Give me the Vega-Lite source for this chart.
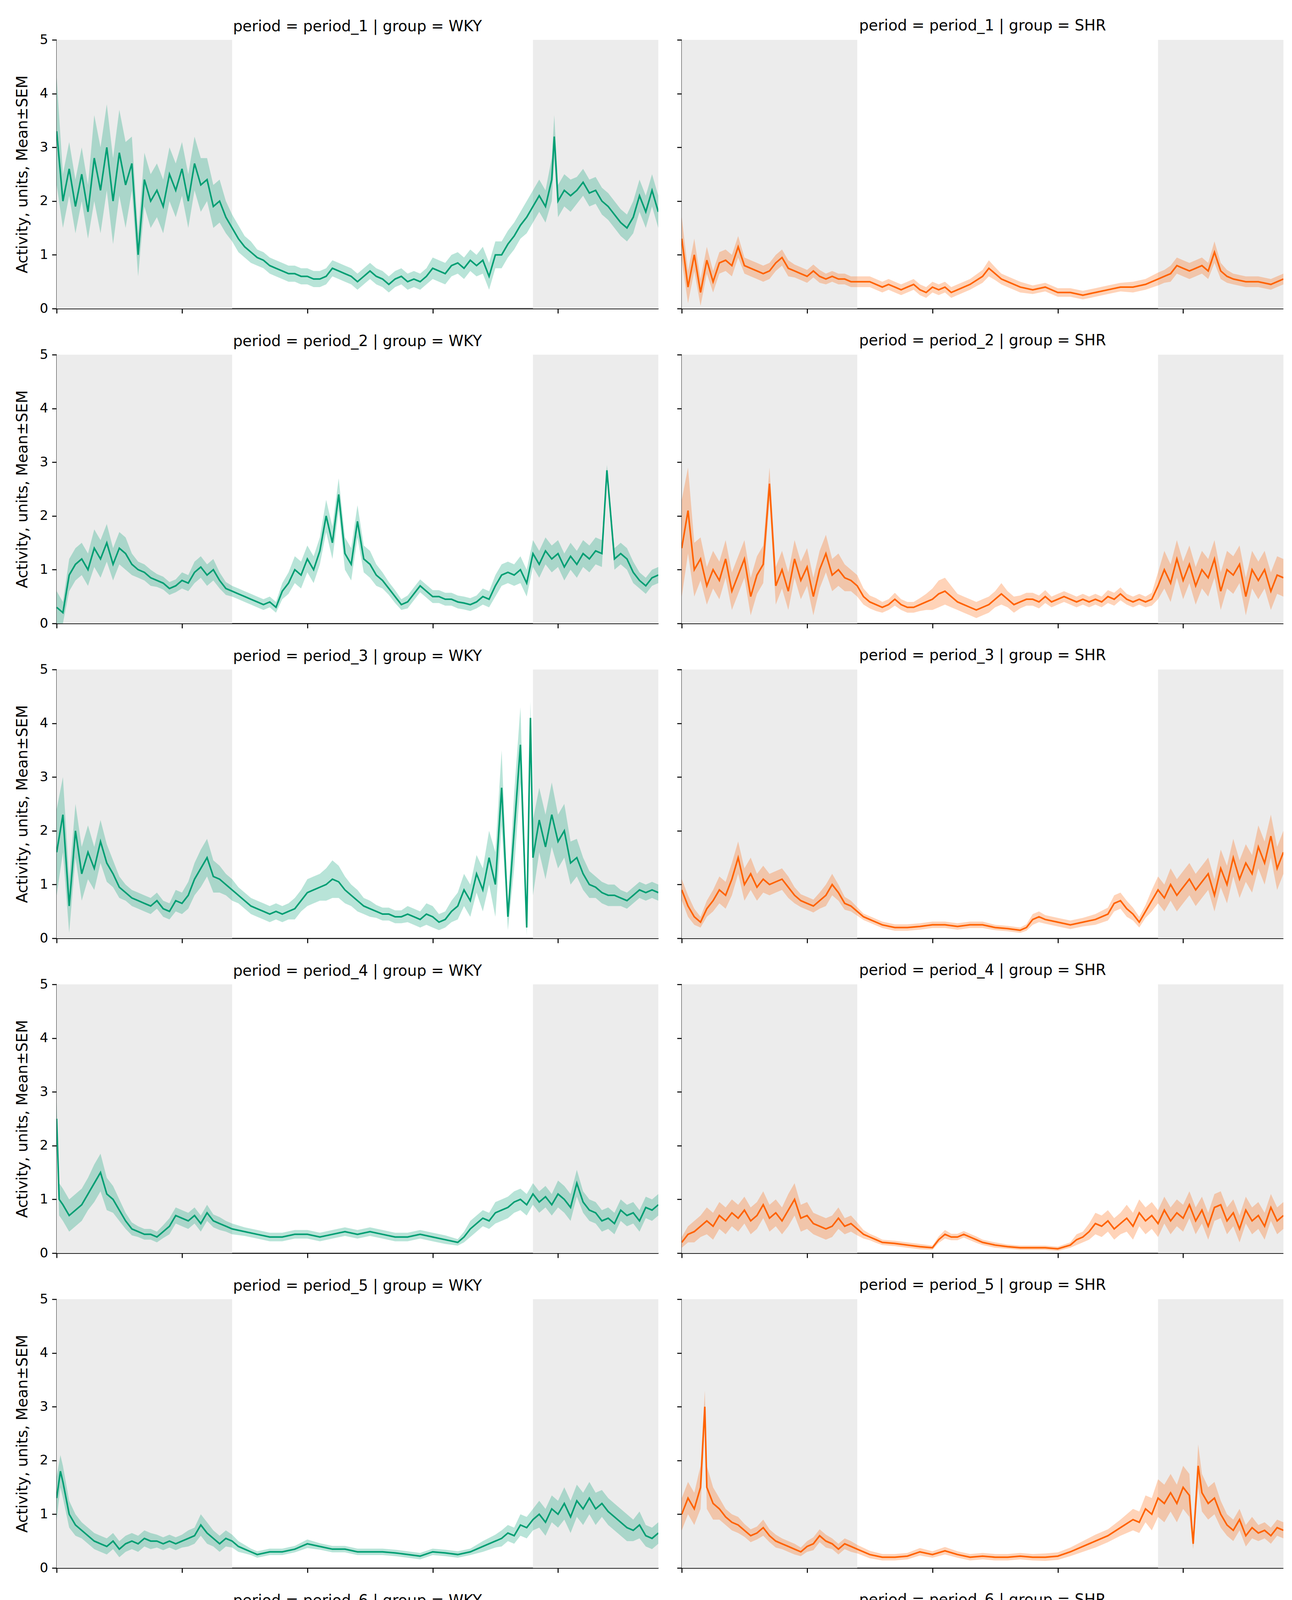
{
  "$schema": "https://vega.github.io/schema/vega-lite/v6.json",
  "description": "Activity per period and group, mean with SEM band, dark phases shaded",
  "padding": {"left": 38, "top": 47, "right": 0, "bottom": 0},
  "data": {"name": "s"},
  "datasets": {
    "night": [{"t": 0, "b": 7}, {"t": 19, "b": 24}],
    "s": [
{"k":"1W","t":0,"m":3.3,"e":1.0},{"k":"1W","t":0.25,"m":2.0,"e":0.5},{"k":"1W","t":0.5,"m":2.6,"e":0.5},{"k":"1W","t":0.75,"m":1.9,"e":0.5},{"k":"1W","t":1,"m":2.5,"e":0.5},{"k":"1W","t":1.25,"m":1.8,"e":0.5},{"k":"1W","t":1.5,"m":2.8,"e":0.8},{"k":"1W","t":1.75,"m":2.2,"e":0.8},{"k":"1W","t":2,"m":3.0,"e":0.8},{"k":"1W","t":2.25,"m":2.0,"e":0.8},{"k":"1W","t":2.5,"m":2.9,"e":0.8},{"k":"1W","t":2.75,"m":2.3,"e":0.8},{"k":"1W","t":3,"m":2.7,"e":0.5},{"k":"1W","t":3.25,"m":1.0,"e":0.4},{"k":"1W","t":3.5,"m":2.4,"e":0.5},{"k":"1W","t":3.75,"m":2.0,"e":0.5},{"k":"1W","t":4,"m":2.2,"e":0.5},{"k":"1W","t":4.25,"m":1.9,"e":0.5},{"k":"1W","t":4.5,"m":2.5,"e":0.5},{"k":"1W","t":4.75,"m":2.2,"e":0.5},{"k":"1W","t":5,"m":2.6,"e":0.5},{"k":"1W","t":5.25,"m":2.0,"e":0.5},{"k":"1W","t":5.5,"m":2.7,"e":0.5},{"k":"1W","t":5.75,"m":2.3,"e":0.5},{"k":"1W","t":6,"m":2.4,"e":0.4},{"k":"1W","t":6.25,"m":1.9,"e":0.4},{"k":"1W","t":6.5,"m":2.0,"e":0.4},{"k":"1W","t":6.75,"m":1.7,"e":0.3},{"k":"1W","t":7,"m":1.5,"e":0.25},{"k":"1W","t":7.25,"m":1.3,"e":0.25},{"k":"1W","t":7.5,"m":1.15,"e":0.2},{"k":"1W","t":7.75,"m":1.05,"e":0.2},{"k":"1W","t":8,"m":0.95,"e":0.15},{"k":"1W","t":8.25,"m":0.9,"e":0.15},{"k":"1W","t":8.5,"m":0.8,"e":0.15},{"k":"1W","t":8.75,"m":0.75,"e":0.15},{"k":"1W","t":9,"m":0.7,"e":0.15},{"k":"1W","t":9.25,"m":0.65,"e":0.15},{"k":"1W","t":9.5,"m":0.65,"e":0.15},{"k":"1W","t":9.75,"m":0.6,"e":0.15},{"k":"1W","t":10,"m":0.6,"e":0.15},{"k":"1W","t":10.25,"m":0.55,"e":0.15},{"k":"1W","t":10.5,"m":0.55,"e":0.15},{"k":"1W","t":10.75,"m":0.6,"e":0.15},{"k":"1W","t":11,"m":0.75,"e":0.15},{"k":"1W","t":11.25,"m":0.7,"e":0.15},{"k":"1W","t":11.5,"m":0.65,"e":0.15},{"k":"1W","t":11.75,"m":0.6,"e":0.15},{"k":"1W","t":12,"m":0.5,"e":0.15},{"k":"1W","t":12.25,"m":0.6,"e":0.15},{"k":"1W","t":12.5,"m":0.7,"e":0.15},{"k":"1W","t":12.75,"m":0.6,"e":0.15},{"k":"1W","t":13,"m":0.55,"e":0.15},{"k":"1W","t":13.25,"m":0.45,"e":0.15},{"k":"1W","t":13.5,"m":0.55,"e":0.15},{"k":"1W","t":13.75,"m":0.6,"e":0.15},{"k":"1W","t":14,"m":0.5,"e":0.15},{"k":"1W","t":14.25,"m":0.55,"e":0.15},{"k":"1W","t":14.5,"m":0.5,"e":0.15},{"k":"1W","t":14.75,"m":0.6,"e":0.15},{"k":"1W","t":15,"m":0.75,"e":0.2},{"k":"1W","t":15.25,"m":0.7,"e":0.2},{"k":"1W","t":15.5,"m":0.65,"e":0.2},{"k":"1W","t":15.75,"m":0.8,"e":0.2},{"k":"1W","t":16,"m":0.85,"e":0.2},{"k":"1W","t":16.25,"m":0.75,"e":0.2},{"k":"1W","t":16.5,"m":0.9,"e":0.2},{"k":"1W","t":16.75,"m":0.8,"e":0.2},{"k":"1W","t":17,"m":0.9,"e":0.25},{"k":"1W","t":17.25,"m":0.6,"e":0.25},{"k":"1W","t":17.5,"m":1.0,"e":0.25},{"k":"1W","t":17.75,"m":1.0,"e":0.25},{"k":"1W","t":18,"m":1.2,"e":0.25},{"k":"1W","t":18.25,"m":1.35,"e":0.25},{"k":"1W","t":18.5,"m":1.55,"e":0.25},{"k":"1W","t":18.75,"m":1.7,"e":0.3},{"k":"1W","t":19,"m":1.9,"e":0.3},{"k":"1W","t":19.25,"m":2.1,"e":0.3},{"k":"1W","t":19.5,"m":1.9,"e":0.3},{"k":"1W","t":19.75,"m":2.4,"e":0.4},{"k":"1W","t":19.85,"m":3.2,"e":0.4},{"k":"1W","t":20,"m":2.0,"e":0.3},{"k":"1W","t":20.25,"m":2.2,"e":0.3},{"k":"1W","t":20.5,"m":2.1,"e":0.3},{"k":"1W","t":20.75,"m":2.2,"e":0.25},{"k":"1W","t":21,"m":2.35,"e":0.25},{"k":"1W","t":21.25,"m":2.15,"e":0.25},{"k":"1W","t":21.5,"m":2.2,"e":0.25},{"k":"1W","t":21.75,"m":2.0,"e":0.25},{"k":"1W","t":22,"m":1.9,"e":0.25},{"k":"1W","t":22.25,"m":1.75,"e":0.25},{"k":"1W","t":22.5,"m":1.6,"e":0.25},{"k":"1W","t":22.75,"m":1.5,"e":0.25},{"k":"1W","t":23,"m":1.7,"e":0.3},{"k":"1W","t":23.25,"m":2.1,"e":0.3},{"k":"1W","t":23.5,"m":1.8,"e":0.3},{"k":"1W","t":23.75,"m":2.2,"e":0.3},{"k":"1W","t":24,"m":1.8,"e":0.3},
{"k":"1S","t":0,"m":1.3,"e":0.4},{"k":"1S","t":0.25,"m":0.4,"e":0.3},{"k":"1S","t":0.5,"m":1.0,"e":0.3},{"k":"1S","t":0.75,"m":0.3,"e":0.25},{"k":"1S","t":1,"m":0.9,"e":0.25},{"k":"1S","t":1.25,"m":0.5,"e":0.2},{"k":"1S","t":1.5,"m":0.85,"e":0.2},{"k":"1S","t":1.75,"m":0.9,"e":0.2},{"k":"1S","t":2,"m":0.8,"e":0.2},{"k":"1S","t":2.25,"m":1.15,"e":0.2},{"k":"1S","t":2.5,"m":0.8,"e":0.15},{"k":"1S","t":2.75,"m":0.75,"e":0.15},{"k":"1S","t":3,"m":0.7,"e":0.15},{"k":"1S","t":3.25,"m":0.65,"e":0.15},{"k":"1S","t":3.5,"m":0.7,"e":0.15},{"k":"1S","t":3.75,"m":0.85,"e":0.15},{"k":"1S","t":4,"m":0.95,"e":0.15},{"k":"1S","t":4.25,"m":0.75,"e":0.15},{"k":"1S","t":4.5,"m":0.7,"e":0.12},{"k":"1S","t":4.75,"m":0.65,"e":0.12},{"k":"1S","t":5,"m":0.6,"e":0.12},{"k":"1S","t":5.25,"m":0.7,"e":0.12},{"k":"1S","t":5.5,"m":0.6,"e":0.12},{"k":"1S","t":5.75,"m":0.55,"e":0.1},{"k":"1S","t":6,"m":0.6,"e":0.1},{"k":"1S","t":6.25,"m":0.55,"e":0.1},{"k":"1S","t":6.5,"m":0.55,"e":0.1},{"k":"1S","t":6.75,"m":0.5,"e":0.1},{"k":"1S","t":7,"m":0.5,"e":0.1},{"k":"1S","t":7.5,"m":0.5,"e":0.1},{"k":"1S","t":8,"m":0.4,"e":0.1},{"k":"1S","t":8.25,"m":0.45,"e":0.1},{"k":"1S","t":8.5,"m":0.4,"e":0.1},{"k":"1S","t":8.75,"m":0.35,"e":0.1},{"k":"1S","t":9,"m":0.4,"e":0.1},{"k":"1S","t":9.25,"m":0.45,"e":0.1},{"k":"1S","t":9.5,"m":0.35,"e":0.1},{"k":"1S","t":9.75,"m":0.3,"e":0.1},{"k":"1S","t":10,"m":0.4,"e":0.1},{"k":"1S","t":10.25,"m":0.35,"e":0.1},{"k":"1S","t":10.5,"m":0.4,"e":0.1},{"k":"1S","t":10.75,"m":0.3,"e":0.1},{"k":"1S","t":11,"m":0.35,"e":0.1},{"k":"1S","t":11.5,"m":0.45,"e":0.1},{"k":"1S","t":12,"m":0.6,"e":0.12},{"k":"1S","t":12.25,"m":0.75,"e":0.15},{"k":"1S","t":12.5,"m":0.65,"e":0.12},{"k":"1S","t":12.75,"m":0.55,"e":0.1},{"k":"1S","t":13,"m":0.5,"e":0.1},{"k":"1S","t":13.5,"m":0.4,"e":0.1},{"k":"1S","t":14,"m":0.35,"e":0.08},{"k":"1S","t":14.5,"m":0.4,"e":0.08},{"k":"1S","t":15,"m":0.3,"e":0.08},{"k":"1S","t":15.5,"m":0.3,"e":0.08},{"k":"1S","t":16,"m":0.25,"e":0.08},{"k":"1S","t":16.5,"m":0.3,"e":0.08},{"k":"1S","t":17,"m":0.35,"e":0.08},{"k":"1S","t":17.5,"m":0.4,"e":0.08},{"k":"1S","t":18,"m":0.4,"e":0.1},{"k":"1S","t":18.5,"m":0.45,"e":0.1},{"k":"1S","t":19,"m":0.55,"e":0.12},{"k":"1S","t":19.25,"m":0.6,"e":0.12},{"k":"1S","t":19.5,"m":0.65,"e":0.15},{"k":"1S","t":19.75,"m":0.8,"e":0.15},{"k":"1S","t":20,"m":0.75,"e":0.15},{"k":"1S","t":20.25,"m":0.7,"e":0.15},{"k":"1S","t":20.5,"m":0.75,"e":0.15},{"k":"1S","t":20.75,"m":0.8,"e":0.15},{"k":"1S","t":21,"m":0.7,"e":0.15},{"k":"1S","t":21.25,"m":1.05,"e":0.2},{"k":"1S","t":21.5,"m":0.7,"e":0.15},{"k":"1S","t":21.75,"m":0.6,"e":0.12},{"k":"1S","t":22,"m":0.55,"e":0.1},{"k":"1S","t":22.5,"m":0.5,"e":0.1},{"k":"1S","t":23,"m":0.5,"e":0.1},{"k":"1S","t":23.5,"m":0.45,"e":0.1},{"k":"1S","t":24,"m":0.55,"e":0.1},
{"k":"2W","t":0,"m":0.3,"e":0.3},{"k":"2W","t":0.25,"m":0.2,"e":0.2},{"k":"2W","t":0.5,"m":0.9,"e":0.3},{"k":"2W","t":0.75,"m":1.1,"e":0.3},{"k":"2W","t":1,"m":1.2,"e":0.3},{"k":"2W","t":1.25,"m":1.0,"e":0.3},{"k":"2W","t":1.5,"m":1.4,"e":0.35},{"k":"2W","t":1.75,"m":1.2,"e":0.35},{"k":"2W","t":2,"m":1.5,"e":0.35},{"k":"2W","t":2.25,"m":1.1,"e":0.3},{"k":"2W","t":2.5,"m":1.4,"e":0.3},{"k":"2W","t":2.75,"m":1.3,"e":0.3},{"k":"2W","t":3,"m":1.1,"e":0.2},{"k":"2W","t":3.25,"m":1.0,"e":0.15},{"k":"2W","t":3.5,"m":0.95,"e":0.15},{"k":"2W","t":3.75,"m":0.85,"e":0.15},{"k":"2W","t":4,"m":0.8,"e":0.12},{"k":"2W","t":4.25,"m":0.75,"e":0.12},{"k":"2W","t":4.5,"m":0.65,"e":0.12},{"k":"2W","t":4.75,"m":0.7,"e":0.12},{"k":"2W","t":5,"m":0.8,"e":0.15},{"k":"2W","t":5.25,"m":0.75,"e":0.15},{"k":"2W","t":5.5,"m":0.95,"e":0.2},{"k":"2W","t":5.75,"m":1.05,"e":0.2},{"k":"2W","t":6,"m":0.9,"e":0.2},{"k":"2W","t":6.25,"m":1.0,"e":0.2},{"k":"2W","t":6.5,"m":0.8,"e":0.15},{"k":"2W","t":6.75,"m":0.65,"e":0.12},{"k":"2W","t":7,"m":0.6,"e":0.1},{"k":"2W","t":7.25,"m":0.55,"e":0.1},{"k":"2W","t":7.5,"m":0.5,"e":0.1},{"k":"2W","t":7.75,"m":0.45,"e":0.1},{"k":"2W","t":8,"m":0.4,"e":0.1},{"k":"2W","t":8.25,"m":0.35,"e":0.1},{"k":"2W","t":8.5,"m":0.4,"e":0.1},{"k":"2W","t":8.75,"m":0.3,"e":0.1},{"k":"2W","t":9,"m":0.6,"e":0.15},{"k":"2W","t":9.25,"m":0.75,"e":0.2},{"k":"2W","t":9.5,"m":1.0,"e":0.25},{"k":"2W","t":9.75,"m":0.9,"e":0.25},{"k":"2W","t":10,"m":1.2,"e":0.25},{"k":"2W","t":10.25,"m":1.0,"e":0.25},{"k":"2W","t":10.5,"m":1.35,"e":0.25},{"k":"2W","t":10.75,"m":2.0,"e":0.3},{"k":"2W","t":11,"m":1.5,"e":0.3},{"k":"2W","t":11.25,"m":2.4,"e":0.3},{"k":"2W","t":11.5,"m":1.3,"e":0.3},{"k":"2W","t":11.75,"m":1.1,"e":0.3},{"k":"2W","t":12,"m":1.9,"e":0.3},{"k":"2W","t":12.25,"m":1.2,"e":0.25},{"k":"2W","t":12.5,"m":1.1,"e":0.25},{"k":"2W","t":12.75,"m":0.9,"e":0.2},{"k":"2W","t":13,"m":0.8,"e":0.15},{"k":"2W","t":13.25,"m":0.65,"e":0.12},{"k":"2W","t":13.5,"m":0.5,"e":0.12},{"k":"2W","t":13.75,"m":0.35,"e":0.1},{"k":"2W","t":14,"m":0.4,"e":0.12},{"k":"2W","t":14.25,"m":0.55,"e":0.12},{"k":"2W","t":14.5,"m":0.7,"e":0.12},{"k":"2W","t":14.75,"m":0.6,"e":0.12},{"k":"2W","t":15,"m":0.5,"e":0.12},{"k":"2W","t":15.25,"m":0.5,"e":0.12},{"k":"2W","t":15.5,"m":0.45,"e":0.12},{"k":"2W","t":15.75,"m":0.45,"e":0.12},{"k":"2W","t":16,"m":0.4,"e":0.12},{"k":"2W","t":16.25,"m":0.38,"e":0.12},{"k":"2W","t":16.5,"m":0.35,"e":0.12},{"k":"2W","t":16.75,"m":0.4,"e":0.12},{"k":"2W","t":17,"m":0.5,"e":0.15},{"k":"2W","t":17.25,"m":0.45,"e":0.15},{"k":"2W","t":17.5,"m":0.7,"e":0.2},{"k":"2W","t":17.75,"m":0.9,"e":0.2},{"k":"2W","t":18,"m":0.95,"e":0.2},{"k":"2W","t":18.25,"m":0.9,"e":0.2},{"k":"2W","t":18.5,"m":1.0,"e":0.25},{"k":"2W","t":18.75,"m":0.75,"e":0.25},{"k":"2W","t":19,"m":1.3,"e":0.25},{"k":"2W","t":19.25,"m":1.1,"e":0.25},{"k":"2W","t":19.5,"m":1.35,"e":0.25},{"k":"2W","t":19.75,"m":1.2,"e":0.25},{"k":"2W","t":20,"m":1.3,"e":0.25},{"k":"2W","t":20.25,"m":1.05,"e":0.25},{"k":"2W","t":20.5,"m":1.25,"e":0.25},{"k":"2W","t":20.75,"m":1.1,"e":0.25},{"k":"2W","t":21,"m":1.3,"e":0.25},{"k":"2W","t":21.25,"m":1.2,"e":0.25},{"k":"2W","t":21.5,"m":1.35,"e":0.25},{"k":"2W","t":21.75,"m":1.3,"e":0.25},{"k":"2W","t":21.95,"m":2.85,"e":0.1},{"k":"2W","t":22.25,"m":1.2,"e":0.2},{"k":"2W","t":22.5,"m":1.3,"e":0.2},{"k":"2W","t":22.75,"m":1.2,"e":0.2},{"k":"2W","t":23,"m":0.95,"e":0.2},{"k":"2W","t":23.25,"m":0.8,"e":0.15},{"k":"2W","t":23.5,"m":0.7,"e":0.15},{"k":"2W","t":23.75,"m":0.85,"e":0.15},{"k":"2W","t":24,"m":0.9,"e":0.15},
{"k":"2S","t":0,"m":1.4,"e":0.9},{"k":"2S","t":0.25,"m":2.1,"e":0.8},{"k":"2S","t":0.5,"m":1.0,"e":0.5},{"k":"2S","t":0.75,"m":1.2,"e":0.4},{"k":"2S","t":1,"m":0.7,"e":0.35},{"k":"2S","t":1.25,"m":1.0,"e":0.35},{"k":"2S","t":1.5,"m":0.8,"e":0.35},{"k":"2S","t":1.75,"m":1.2,"e":0.35},{"k":"2S","t":2,"m":0.6,"e":0.35},{"k":"2S","t":2.25,"m":0.9,"e":0.35},{"k":"2S","t":2.5,"m":1.2,"e":0.35},{"k":"2S","t":2.75,"m":0.5,"e":0.35},{"k":"2S","t":3,"m":0.9,"e":0.35},{"k":"2S","t":3.25,"m":1.1,"e":0.35},{"k":"2S","t":3.5,"m":2.6,"e":0.3},{"k":"2S","t":3.75,"m":0.7,"e":0.35},{"k":"2S","t":4,"m":1.0,"e":0.35},{"k":"2S","t":4.25,"m":0.6,"e":0.35},{"k":"2S","t":4.5,"m":1.2,"e":0.35},{"k":"2S","t":4.75,"m":0.8,"e":0.35},{"k":"2S","t":5,"m":1.05,"e":0.35},{"k":"2S","t":5.25,"m":0.5,"e":0.35},{"k":"2S","t":5.5,"m":1.0,"e":0.35},{"k":"2S","t":5.75,"m":1.3,"e":0.35},{"k":"2S","t":6,"m":0.9,"e":0.3},{"k":"2S","t":6.25,"m":1.0,"e":0.3},{"k":"2S","t":6.5,"m":0.85,"e":0.25},{"k":"2S","t":6.75,"m":0.8,"e":0.2},{"k":"2S","t":7,"m":0.7,"e":0.2},{"k":"2S","t":7.25,"m":0.5,"e":0.15},{"k":"2S","t":7.5,"m":0.4,"e":0.12},{"k":"2S","t":7.75,"m":0.35,"e":0.12},{"k":"2S","t":8,"m":0.3,"e":0.1},{"k":"2S","t":8.25,"m":0.35,"e":0.1},{"k":"2S","t":8.5,"m":0.45,"e":0.12},{"k":"2S","t":8.75,"m":0.35,"e":0.1},{"k":"2S","t":9,"m":0.3,"e":0.1},{"k":"2S","t":9.25,"m":0.3,"e":0.1},{"k":"2S","t":9.5,"m":0.35,"e":0.12},{"k":"2S","t":9.75,"m":0.4,"e":0.15},{"k":"2S","t":10,"m":0.45,"e":0.2},{"k":"2S","t":10.25,"m":0.55,"e":0.25},{"k":"2S","t":10.5,"m":0.6,"e":0.25},{"k":"2S","t":10.75,"m":0.5,"e":0.2},{"k":"2S","t":11,"m":0.4,"e":0.15},{"k":"2S","t":11.25,"m":0.35,"e":0.15},{"k":"2S","t":11.5,"m":0.3,"e":0.15},{"k":"2S","t":11.75,"m":0.25,"e":0.15},{"k":"2S","t":12,"m":0.3,"e":0.15},{"k":"2S","t":12.25,"m":0.35,"e":0.15},{"k":"2S","t":12.5,"m":0.45,"e":0.15},{"k":"2S","t":12.75,"m":0.55,"e":0.2},{"k":"2S","t":13,"m":0.45,"e":0.15},{"k":"2S","t":13.25,"m":0.35,"e":0.15},{"k":"2S","t":13.5,"m":0.4,"e":0.12},{"k":"2S","t":13.75,"m":0.45,"e":0.12},{"k":"2S","t":14,"m":0.45,"e":0.12},{"k":"2S","t":14.25,"m":0.4,"e":0.12},{"k":"2S","t":14.5,"m":0.5,"e":0.12},{"k":"2S","t":14.75,"m":0.4,"e":0.1},{"k":"2S","t":15,"m":0.45,"e":0.1},{"k":"2S","t":15.25,"m":0.5,"e":0.1},{"k":"2S","t":15.5,"m":0.45,"e":0.1},{"k":"2S","t":15.75,"m":0.4,"e":0.1},{"k":"2S","t":16,"m":0.45,"e":0.1},{"k":"2S","t":16.25,"m":0.4,"e":0.1},{"k":"2S","t":16.5,"m":0.45,"e":0.1},{"k":"2S","t":16.75,"m":0.4,"e":0.1},{"k":"2S","t":17,"m":0.5,"e":0.12},{"k":"2S","t":17.25,"m":0.45,"e":0.12},{"k":"2S","t":17.5,"m":0.55,"e":0.12},{"k":"2S","t":17.75,"m":0.45,"e":0.1},{"k":"2S","t":18,"m":0.4,"e":0.1},{"k":"2S","t":18.25,"m":0.45,"e":0.1},{"k":"2S","t":18.5,"m":0.4,"e":0.1},{"k":"2S","t":18.75,"m":0.45,"e":0.12},{"k":"2S","t":19,"m":0.7,"e":0.25},{"k":"2S","t":19.25,"m":1.0,"e":0.35},{"k":"2S","t":19.5,"m":0.75,"e":0.35},{"k":"2S","t":19.75,"m":1.2,"e":0.35},{"k":"2S","t":20,"m":0.8,"e":0.35},{"k":"2S","t":20.25,"m":1.1,"e":0.35},{"k":"2S","t":20.5,"m":0.7,"e":0.35},{"k":"2S","t":20.75,"m":1.0,"e":0.35},{"k":"2S","t":21,"m":0.85,"e":0.35},{"k":"2S","t":21.25,"m":1.2,"e":0.35},{"k":"2S","t":21.5,"m":0.6,"e":0.35},{"k":"2S","t":21.75,"m":1.0,"e":0.35},{"k":"2S","t":22,"m":0.9,"e":0.35},{"k":"2S","t":22.25,"m":1.1,"e":0.35},{"k":"2S","t":22.5,"m":0.5,"e":0.35},{"k":"2S","t":22.75,"m":1.0,"e":0.35},{"k":"2S","t":23,"m":0.8,"e":0.35},{"k":"2S","t":23.25,"m":1.0,"e":0.35},{"k":"2S","t":23.5,"m":0.6,"e":0.35},{"k":"2S","t":23.75,"m":0.9,"e":0.35},{"k":"2S","t":24,"m":0.85,"e":0.35},
{"k":"3W","t":0,"m":1.6,"e":0.8},{"k":"3W","t":0.25,"m":2.3,"e":0.7},{"k":"3W","t":0.5,"m":0.6,"e":0.5},{"k":"3W","t":0.75,"m":2.0,"e":0.5},{"k":"3W","t":1,"m":1.2,"e":0.5},{"k":"3W","t":1.25,"m":1.6,"e":0.5},{"k":"3W","t":1.5,"m":1.3,"e":0.4},{"k":"3W","t":1.75,"m":1.8,"e":0.4},{"k":"3W","t":2,"m":1.4,"e":0.35},{"k":"3W","t":2.25,"m":1.2,"e":0.25},{"k":"3W","t":2.5,"m":0.95,"e":0.2},{"k":"3W","t":2.75,"m":0.85,"e":0.15},{"k":"3W","t":3,"m":0.75,"e":0.15},{"k":"3W","t":3.25,"m":0.7,"e":0.15},{"k":"3W","t":3.5,"m":0.65,"e":0.15},{"k":"3W","t":3.75,"m":0.6,"e":0.15},{"k":"3W","t":4,"m":0.7,"e":0.15},{"k":"3W","t":4.25,"m":0.55,"e":0.15},{"k":"3W","t":4.5,"m":0.5,"e":0.15},{"k":"3W","t":4.75,"m":0.7,"e":0.2},{"k":"3W","t":5,"m":0.65,"e":0.2},{"k":"3W","t":5.25,"m":0.8,"e":0.25},{"k":"3W","t":5.5,"m":1.1,"e":0.3},{"k":"3W","t":5.75,"m":1.3,"e":0.35},{"k":"3W","t":6,"m":1.5,"e":0.35},{"k":"3W","t":6.25,"m":1.15,"e":0.3},{"k":"3W","t":6.5,"m":1.1,"e":0.25},{"k":"3W","t":6.75,"m":1.0,"e":0.2},{"k":"3W","t":7,"m":0.9,"e":0.2},{"k":"3W","t":7.25,"m":0.8,"e":0.15},{"k":"3W","t":7.5,"m":0.7,"e":0.15},{"k":"3W","t":7.75,"m":0.6,"e":0.15},{"k":"3W","t":8,"m":0.55,"e":0.15},{"k":"3W","t":8.25,"m":0.5,"e":0.15},{"k":"3W","t":8.5,"m":0.45,"e":0.15},{"k":"3W","t":8.75,"m":0.5,"e":0.15},{"k":"3W","t":9,"m":0.45,"e":0.15},{"k":"3W","t":9.25,"m":0.5,"e":0.15},{"k":"3W","t":9.5,"m":0.55,"e":0.2},{"k":"3W","t":9.75,"m":0.7,"e":0.2},{"k":"3W","t":10,"m":0.85,"e":0.25},{"k":"3W","t":10.25,"m":0.9,"e":0.25},{"k":"3W","t":10.5,"m":0.95,"e":0.25},{"k":"3W","t":10.75,"m":1.0,"e":0.3},{"k":"3W","t":11,"m":1.1,"e":0.35},{"k":"3W","t":11.25,"m":1.05,"e":0.3},{"k":"3W","t":11.5,"m":0.9,"e":0.25},{"k":"3W","t":11.75,"m":0.8,"e":0.2},{"k":"3W","t":12,"m":0.7,"e":0.2},{"k":"3W","t":12.25,"m":0.6,"e":0.15},{"k":"3W","t":12.5,"m":0.55,"e":0.15},{"k":"3W","t":12.75,"m":0.5,"e":0.12},{"k":"3W","t":13,"m":0.45,"e":0.12},{"k":"3W","t":13.25,"m":0.45,"e":0.12},{"k":"3W","t":13.5,"m":0.4,"e":0.12},{"k":"3W","t":13.75,"m":0.4,"e":0.12},{"k":"3W","t":14,"m":0.45,"e":0.15},{"k":"3W","t":14.25,"m":0.4,"e":0.15},{"k":"3W","t":14.5,"m":0.35,"e":0.15},{"k":"3W","t":14.75,"m":0.45,"e":0.2},{"k":"3W","t":15,"m":0.4,"e":0.2},{"k":"3W","t":15.25,"m":0.3,"e":0.15},{"k":"3W","t":15.5,"m":0.35,"e":0.15},{"k":"3W","t":15.75,"m":0.5,"e":0.2},{"k":"3W","t":16,"m":0.6,"e":0.25},{"k":"3W","t":16.25,"m":0.9,"e":0.3},{"k":"3W","t":16.5,"m":0.7,"e":0.3},{"k":"3W","t":16.75,"m":1.2,"e":0.35},{"k":"3W","t":17,"m":0.9,"e":0.4},{"k":"3W","t":17.25,"m":1.5,"e":0.5},{"k":"3W","t":17.5,"m":1.0,"e":0.6},{"k":"3W","t":17.75,"m":2.8,"e":0.7},{"k":"3W","t":18,"m":0.4,"e":0.25},{"k":"3W","t":18.25,"m":2.0,"e":0.7},{"k":"3W","t":18.5,"m":3.6,"e":0.7},{"k":"3W","t":18.75,"m":0.2,"e":0.15},{"k":"3W","t":18.9,"m":4.1,"e":0.3},{"k":"3W","t":19,"m":1.5,"e":0.7},{"k":"3W","t":19.25,"m":2.2,"e":0.6},{"k":"3W","t":19.5,"m":1.7,"e":0.6},{"k":"3W","t":19.75,"m":2.3,"e":0.6},{"k":"3W","t":20,"m":1.8,"e":0.5},{"k":"3W","t":20.25,"m":2.0,"e":0.5},{"k":"3W","t":20.5,"m":1.4,"e":0.4},{"k":"3W","t":20.75,"m":1.5,"e":0.35},{"k":"3W","t":21,"m":1.2,"e":0.3},{"k":"3W","t":21.25,"m":1.0,"e":0.25},{"k":"3W","t":21.5,"m":0.95,"e":0.2},{"k":"3W","t":21.75,"m":0.85,"e":0.2},{"k":"3W","t":22,"m":0.8,"e":0.2},{"k":"3W","t":22.25,"m":0.8,"e":0.2},{"k":"3W","t":22.5,"m":0.75,"e":0.15},{"k":"3W","t":22.75,"m":0.7,"e":0.15},{"k":"3W","t":23,"m":0.8,"e":0.15},{"k":"3W","t":23.25,"m":0.9,"e":0.15},{"k":"3W","t":23.5,"m":0.85,"e":0.15},{"k":"3W","t":23.75,"m":0.9,"e":0.15},{"k":"3W","t":24,"m":0.85,"e":0.15},
{"k":"3S","t":0,"m":0.9,"e":0.2},{"k":"3S","t":0.25,"m":0.6,"e":0.2},{"k":"3S","t":0.5,"m":0.4,"e":0.15},{"k":"3S","t":0.75,"m":0.3,"e":0.1},{"k":"3S","t":1,"m":0.55,"e":0.15},{"k":"3S","t":1.25,"m":0.7,"e":0.2},{"k":"3S","t":1.5,"m":0.9,"e":0.25},{"k":"3S","t":1.75,"m":0.8,"e":0.25},{"k":"3S","t":2,"m":1.1,"e":0.3},{"k":"3S","t":2.25,"m":1.5,"e":0.3},{"k":"3S","t":2.5,"m":1.0,"e":0.3},{"k":"3S","t":2.75,"m":1.2,"e":0.3},{"k":"3S","t":3,"m":0.95,"e":0.25},{"k":"3S","t":3.25,"m":1.1,"e":0.25},{"k":"3S","t":3.5,"m":1.0,"e":0.2},{"k":"3S","t":3.75,"m":1.05,"e":0.2},{"k":"3S","t":4,"m":1.1,"e":0.2},{"k":"3S","t":4.25,"m":0.95,"e":0.2},{"k":"3S","t":4.5,"m":0.8,"e":0.15},{"k":"3S","t":4.75,"m":0.7,"e":0.12},{"k":"3S","t":5,"m":0.65,"e":0.12},{"k":"3S","t":5.25,"m":0.6,"e":0.12},{"k":"3S","t":5.5,"m":0.7,"e":0.15},{"k":"3S","t":5.75,"m":0.8,"e":0.2},{"k":"3S","t":6,"m":1.0,"e":0.2},{"k":"3S","t":6.25,"m":0.85,"e":0.15},{"k":"3S","t":6.5,"m":0.65,"e":0.12},{"k":"3S","t":6.75,"m":0.6,"e":0.1},{"k":"3S","t":7,"m":0.5,"e":0.08},{"k":"3S","t":7.25,"m":0.4,"e":0.06},{"k":"3S","t":7.5,"m":0.35,"e":0.06},{"k":"3S","t":7.75,"m":0.3,"e":0.06},{"k":"3S","t":8,"m":0.25,"e":0.06},{"k":"3S","t":8.5,"m":0.2,"e":0.06},{"k":"3S","t":9,"m":0.2,"e":0.06},{"k":"3S","t":9.5,"m":0.22,"e":0.06},{"k":"3S","t":10,"m":0.25,"e":0.06},{"k":"3S","t":10.5,"m":0.25,"e":0.06},{"k":"3S","t":11,"m":0.22,"e":0.06},{"k":"3S","t":11.5,"m":0.25,"e":0.06},{"k":"3S","t":12,"m":0.25,"e":0.06},{"k":"3S","t":12.5,"m":0.2,"e":0.05},{"k":"3S","t":13,"m":0.18,"e":0.05},{"k":"3S","t":13.5,"m":0.15,"e":0.05},{"k":"3S","t":13.75,"m":0.2,"e":0.06},{"k":"3S","t":14,"m":0.35,"e":0.1},{"k":"3S","t":14.25,"m":0.4,"e":0.1},{"k":"3S","t":14.5,"m":0.35,"e":0.08},{"k":"3S","t":15,"m":0.3,"e":0.08},{"k":"3S","t":15.5,"m":0.25,"e":0.08},{"k":"3S","t":16,"m":0.3,"e":0.08},{"k":"3S","t":16.5,"m":0.35,"e":0.1},{"k":"3S","t":17,"m":0.45,"e":0.12},{"k":"3S","t":17.25,"m":0.65,"e":0.15},{"k":"3S","t":17.5,"m":0.7,"e":0.15},{"k":"3S","t":17.75,"m":0.55,"e":0.15},{"k":"3S","t":18,"m":0.45,"e":0.12},{"k":"3S","t":18.25,"m":0.3,"e":0.1},{"k":"3S","t":18.5,"m":0.5,"e":0.12},{"k":"3S","t":18.75,"m":0.7,"e":0.2},{"k":"3S","t":19,"m":0.9,"e":0.25},{"k":"3S","t":19.25,"m":0.75,"e":0.25},{"k":"3S","t":19.5,"m":1.0,"e":0.3},{"k":"3S","t":19.75,"m":0.8,"e":0.3},{"k":"3S","t":20,"m":0.95,"e":0.3},{"k":"3S","t":20.25,"m":1.1,"e":0.3},{"k":"3S","t":20.5,"m":0.9,"e":0.3},{"k":"3S","t":20.75,"m":1.05,"e":0.3},{"k":"3S","t":21,"m":1.2,"e":0.3},{"k":"3S","t":21.25,"m":0.8,"e":0.3},{"k":"3S","t":21.5,"m":1.3,"e":0.35},{"k":"3S","t":21.75,"m":1.0,"e":0.35},{"k":"3S","t":22,"m":1.5,"e":0.35},{"k":"3S","t":22.25,"m":1.1,"e":0.35},{"k":"3S","t":22.5,"m":1.4,"e":0.35},{"k":"3S","t":22.75,"m":1.2,"e":0.35},{"k":"3S","t":23,"m":1.7,"e":0.4},{"k":"3S","t":23.25,"m":1.4,"e":0.4},{"k":"3S","t":23.5,"m":1.9,"e":0.4},{"k":"3S","t":23.75,"m":1.3,"e":0.4},{"k":"3S","t":24,"m":1.6,"e":0.4},
{"k":"4W","t":0,"m":2.5,"e":0.3},{"k":"4W","t":0.1,"m":1.0,"e":0.3},{"k":"4W","t":0.25,"m":0.9,"e":0.3},{"k":"4W","t":0.5,"m":0.7,"e":0.3},{"k":"4W","t":0.75,"m":0.8,"e":0.3},{"k":"4W","t":1,"m":0.9,"e":0.3},{"k":"4W","t":1.25,"m":1.1,"e":0.3},{"k":"4W","t":1.5,"m":1.3,"e":0.35},{"k":"4W","t":1.75,"m":1.5,"e":0.35},{"k":"4W","t":2,"m":1.1,"e":0.3},{"k":"4W","t":2.25,"m":1.0,"e":0.25},{"k":"4W","t":2.5,"m":0.8,"e":0.2},{"k":"4W","t":2.75,"m":0.6,"e":0.15},{"k":"4W","t":3,"m":0.45,"e":0.12},{"k":"4W","t":3.25,"m":0.4,"e":0.1},{"k":"4W","t":3.5,"m":0.35,"e":0.1},{"k":"4W","t":3.75,"m":0.35,"e":0.1},{"k":"4W","t":4,"m":0.3,"e":0.1},{"k":"4W","t":4.25,"m":0.4,"e":0.12},{"k":"4W","t":4.5,"m":0.5,"e":0.15},{"k":"4W","t":4.75,"m":0.7,"e":0.15},{"k":"4W","t":5,"m":0.65,"e":0.15},{"k":"4W","t":5.25,"m":0.6,"e":0.15},{"k":"4W","t":5.5,"m":0.7,"e":0.15},{"k":"4W","t":5.75,"m":0.55,"e":0.15},{"k":"4W","t":6,"m":0.75,"e":0.15},{"k":"4W","t":6.25,"m":0.6,"e":0.12},{"k":"4W","t":6.5,"m":0.55,"e":0.12},{"k":"4W","t":6.75,"m":0.5,"e":0.1},{"k":"4W","t":7,"m":0.45,"e":0.1},{"k":"4W","t":7.5,"m":0.4,"e":0.08},{"k":"4W","t":8,"m":0.35,"e":0.08},{"k":"4W","t":8.5,"m":0.3,"e":0.08},{"k":"4W","t":9,"m":0.3,"e":0.08},{"k":"4W","t":9.5,"m":0.35,"e":0.08},{"k":"4W","t":10,"m":0.35,"e":0.08},{"k":"4W","t":10.5,"m":0.3,"e":0.08},{"k":"4W","t":11,"m":0.35,"e":0.08},{"k":"4W","t":11.5,"m":0.4,"e":0.08},{"k":"4W","t":12,"m":0.35,"e":0.08},{"k":"4W","t":12.5,"m":0.4,"e":0.08},{"k":"4W","t":13,"m":0.35,"e":0.08},{"k":"4W","t":13.5,"m":0.3,"e":0.08},{"k":"4W","t":14,"m":0.3,"e":0.08},{"k":"4W","t":14.5,"m":0.35,"e":0.08},{"k":"4W","t":15,"m":0.3,"e":0.08},{"k":"4W","t":15.5,"m":0.25,"e":0.08},{"k":"4W","t":16,"m":0.2,"e":0.06},{"k":"4W","t":16.25,"m":0.3,"e":0.1},{"k":"4W","t":16.5,"m":0.45,"e":0.15},{"k":"4W","t":16.75,"m":0.55,"e":0.15},{"k":"4W","t":17,"m":0.65,"e":0.15},{"k":"4W","t":17.25,"m":0.6,"e":0.15},{"k":"4W","t":17.5,"m":0.75,"e":0.2},{"k":"4W","t":17.75,"m":0.8,"e":0.2},{"k":"4W","t":18,"m":0.85,"e":0.2},{"k":"4W","t":18.25,"m":0.95,"e":0.2},{"k":"4W","t":18.5,"m":1.0,"e":0.2},{"k":"4W","t":18.75,"m":0.9,"e":0.2},{"k":"4W","t":19,"m":1.1,"e":0.2},{"k":"4W","t":19.25,"m":0.95,"e":0.2},{"k":"4W","t":19.5,"m":1.05,"e":0.2},{"k":"4W","t":19.75,"m":0.9,"e":0.2},{"k":"4W","t":20,"m":1.1,"e":0.25},{"k":"4W","t":20.25,"m":1.0,"e":0.25},{"k":"4W","t":20.5,"m":0.85,"e":0.25},{"k":"4W","t":20.75,"m":1.3,"e":0.25},{"k":"4W","t":21,"m":0.95,"e":0.2},{"k":"4W","t":21.25,"m":0.8,"e":0.2},{"k":"4W","t":21.5,"m":0.75,"e":0.2},{"k":"4W","t":21.75,"m":0.6,"e":0.2},{"k":"4W","t":22,"m":0.65,"e":0.2},{"k":"4W","t":22.25,"m":0.55,"e":0.2},{"k":"4W","t":22.5,"m":0.8,"e":0.2},{"k":"4W","t":22.75,"m":0.7,"e":0.2},{"k":"4W","t":23,"m":0.75,"e":0.2},{"k":"4W","t":23.25,"m":0.6,"e":0.2},{"k":"4W","t":23.5,"m":0.85,"e":0.2},{"k":"4W","t":23.75,"m":0.8,"e":0.2},{"k":"4W","t":24,"m":0.9,"e":0.2},
{"k":"4S","t":0,"m":0.2,"e":0.1},{"k":"4S","t":0.25,"m":0.35,"e":0.15},{"k":"4S","t":0.5,"m":0.4,"e":0.2},{"k":"4S","t":0.75,"m":0.5,"e":0.2},{"k":"4S","t":1,"m":0.6,"e":0.25},{"k":"4S","t":1.25,"m":0.5,"e":0.25},{"k":"4S","t":1.5,"m":0.7,"e":0.25},{"k":"4S","t":1.75,"m":0.6,"e":0.25},{"k":"4S","t":2,"m":0.75,"e":0.25},{"k":"4S","t":2.25,"m":0.65,"e":0.25},{"k":"4S","t":2.5,"m":0.8,"e":0.25},{"k":"4S","t":2.75,"m":0.6,"e":0.25},{"k":"4S","t":3,"m":0.7,"e":0.25},{"k":"4S","t":3.25,"m":0.9,"e":0.25},{"k":"4S","t":3.5,"m":0.65,"e":0.25},{"k":"4S","t":3.75,"m":0.75,"e":0.25},{"k":"4S","t":4,"m":0.6,"e":0.25},{"k":"4S","t":4.25,"m":0.8,"e":0.3},{"k":"4S","t":4.5,"m":1.0,"e":0.3},{"k":"4S","t":4.75,"m":0.65,"e":0.25},{"k":"4S","t":5,"m":0.7,"e":0.25},{"k":"4S","t":5.25,"m":0.55,"e":0.2},{"k":"4S","t":5.5,"m":0.5,"e":0.2},{"k":"4S","t":5.75,"m":0.45,"e":0.2},{"k":"4S","t":6,"m":0.5,"e":0.2},{"k":"4S","t":6.25,"m":0.65,"e":0.2},{"k":"4S","t":6.5,"m":0.5,"e":0.15},{"k":"4S","t":6.75,"m":0.55,"e":0.15},{"k":"4S","t":7,"m":0.45,"e":0.12},{"k":"4S","t":7.25,"m":0.35,"e":0.08},{"k":"4S","t":7.5,"m":0.3,"e":0.06},{"k":"4S","t":7.75,"m":0.25,"e":0.06},{"k":"4S","t":8,"m":0.2,"e":0.05},{"k":"4S","t":8.5,"m":0.18,"e":0.05},{"k":"4S","t":9,"m":0.15,"e":0.05},{"k":"4S","t":9.5,"m":0.12,"e":0.05},{"k":"4S","t":10,"m":0.1,"e":0.04},{"k":"4S","t":10.25,"m":0.25,"e":0.06},{"k":"4S","t":10.5,"m":0.35,"e":0.08},{"k":"4S","t":10.75,"m":0.3,"e":0.06},{"k":"4S","t":11,"m":0.3,"e":0.06},{"k":"4S","t":11.25,"m":0.35,"e":0.06},{"k":"4S","t":11.5,"m":0.3,"e":0.06},{"k":"4S","t":11.75,"m":0.25,"e":0.06},{"k":"4S","t":12,"m":0.2,"e":0.05},{"k":"4S","t":12.5,"m":0.15,"e":0.05},{"k":"4S","t":13,"m":0.12,"e":0.04},{"k":"4S","t":13.5,"m":0.1,"e":0.04},{"k":"4S","t":14,"m":0.1,"e":0.04},{"k":"4S","t":14.5,"m":0.1,"e":0.04},{"k":"4S","t":15,"m":0.08,"e":0.04},{"k":"4S","t":15.5,"m":0.15,"e":0.05},{"k":"4S","t":15.75,"m":0.25,"e":0.1},{"k":"4S","t":16,"m":0.3,"e":0.1},{"k":"4S","t":16.25,"m":0.4,"e":0.15},{"k":"4S","t":16.5,"m":0.55,"e":0.2},{"k":"4S","t":16.75,"m":0.5,"e":0.2},{"k":"4S","t":17,"m":0.6,"e":0.2},{"k":"4S","t":17.25,"m":0.45,"e":0.2},{"k":"4S","t":17.5,"m":0.55,"e":0.2},{"k":"4S","t":17.75,"m":0.65,"e":0.25},{"k":"4S","t":18,"m":0.5,"e":0.25},{"k":"4S","t":18.25,"m":0.75,"e":0.25},{"k":"4S","t":18.5,"m":0.6,"e":0.25},{"k":"4S","t":18.75,"m":0.7,"e":0.25},{"k":"4S","t":19,"m":0.55,"e":0.25},{"k":"4S","t":19.25,"m":0.8,"e":0.25},{"k":"4S","t":19.5,"m":0.6,"e":0.25},{"k":"4S","t":19.75,"m":0.75,"e":0.25},{"k":"4S","t":20,"m":0.65,"e":0.25},{"k":"4S","t":20.25,"m":0.9,"e":0.25},{"k":"4S","t":20.5,"m":0.6,"e":0.25},{"k":"4S","t":20.75,"m":0.8,"e":0.25},{"k":"4S","t":21,"m":0.5,"e":0.25},{"k":"4S","t":21.25,"m":0.85,"e":0.25},{"k":"4S","t":21.5,"m":0.9,"e":0.25},{"k":"4S","t":21.75,"m":0.6,"e":0.25},{"k":"4S","t":22,"m":0.75,"e":0.25},{"k":"4S","t":22.25,"m":0.45,"e":0.25},{"k":"4S","t":22.5,"m":0.8,"e":0.25},{"k":"4S","t":22.75,"m":0.6,"e":0.25},{"k":"4S","t":23,"m":0.7,"e":0.25},{"k":"4S","t":23.25,"m":0.5,"e":0.25},{"k":"4S","t":23.5,"m":0.85,"e":0.25},{"k":"4S","t":23.75,"m":0.6,"e":0.25},{"k":"4S","t":24,"m":0.7,"e":0.25},
{"k":"5W","t":0,"m":1.3,"e":0.4},{"k":"5W","t":0.15,"m":1.8,"e":0.3},{"k":"5W","t":0.25,"m":1.6,"e":0.3},{"k":"5W","t":0.5,"m":1.0,"e":0.25},{"k":"5W","t":0.75,"m":0.8,"e":0.2},{"k":"5W","t":1,"m":0.7,"e":0.15},{"k":"5W","t":1.25,"m":0.6,"e":0.15},{"k":"5W","t":1.5,"m":0.5,"e":0.15},{"k":"5W","t":1.75,"m":0.45,"e":0.15},{"k":"5W","t":2,"m":0.4,"e":0.15},{"k":"5W","t":2.25,"m":0.5,"e":0.15},{"k":"5W","t":2.5,"m":0.35,"e":0.15},{"k":"5W","t":2.75,"m":0.45,"e":0.15},{"k":"5W","t":3,"m":0.5,"e":0.15},{"k":"5W","t":3.25,"m":0.45,"e":0.15},{"k":"5W","t":3.5,"m":0.55,"e":0.15},{"k":"5W","t":3.75,"m":0.5,"e":0.15},{"k":"5W","t":4,"m":0.5,"e":0.12},{"k":"5W","t":4.25,"m":0.45,"e":0.12},{"k":"5W","t":4.5,"m":0.5,"e":0.12},{"k":"5W","t":4.75,"m":0.45,"e":0.12},{"k":"5W","t":5,"m":0.5,"e":0.12},{"k":"5W","t":5.25,"m":0.55,"e":0.15},{"k":"5W","t":5.5,"m":0.6,"e":0.15},{"k":"5W","t":5.75,"m":0.8,"e":0.2},{"k":"5W","t":6,"m":0.65,"e":0.2},{"k":"5W","t":6.25,"m":0.55,"e":0.15},{"k":"5W","t":6.5,"m":0.45,"e":0.15},{"k":"5W","t":6.75,"m":0.55,"e":0.15},{"k":"5W","t":7,"m":0.5,"e":0.12},{"k":"5W","t":7.25,"m":0.4,"e":0.1},{"k":"5W","t":7.5,"m":0.35,"e":0.08},{"k":"5W","t":7.75,"m":0.3,"e":0.06},{"k":"5W","t":8,"m":0.25,"e":0.06},{"k":"5W","t":8.5,"m":0.3,"e":0.06},{"k":"5W","t":9,"m":0.3,"e":0.06},{"k":"5W","t":9.5,"m":0.35,"e":0.06},{"k":"5W","t":10,"m":0.45,"e":0.08},{"k":"5W","t":10.5,"m":0.4,"e":0.06},{"k":"5W","t":11,"m":0.35,"e":0.06},{"k":"5W","t":11.5,"m":0.35,"e":0.06},{"k":"5W","t":12,"m":0.3,"e":0.06},{"k":"5W","t":12.5,"m":0.3,"e":0.06},{"k":"5W","t":13,"m":0.3,"e":0.06},{"k":"5W","t":13.5,"m":0.28,"e":0.06},{"k":"5W","t":14,"m":0.25,"e":0.06},{"k":"5W","t":14.5,"m":0.22,"e":0.06},{"k":"5W","t":15,"m":0.3,"e":0.06},{"k":"5W","t":15.5,"m":0.28,"e":0.06},{"k":"5W","t":16,"m":0.25,"e":0.06},{"k":"5W","t":16.5,"m":0.3,"e":0.06},{"k":"5W","t":17,"m":0.4,"e":0.1},{"k":"5W","t":17.5,"m":0.5,"e":0.12},{"k":"5W","t":17.75,"m":0.55,"e":0.15},{"k":"5W","t":18,"m":0.65,"e":0.15},{"k":"5W","t":18.25,"m":0.6,"e":0.15},{"k":"5W","t":18.5,"m":0.8,"e":0.2},{"k":"5W","t":18.75,"m":0.75,"e":0.2},{"k":"5W","t":19,"m":0.9,"e":0.2},{"k":"5W","t":19.25,"m":1.0,"e":0.25},{"k":"5W","t":19.5,"m":0.85,"e":0.25},{"k":"5W","t":19.75,"m":1.1,"e":0.25},{"k":"5W","t":20,"m":1.0,"e":0.25},{"k":"5W","t":20.25,"m":1.2,"e":0.3},{"k":"5W","t":20.5,"m":0.95,"e":0.3},{"k":"5W","t":20.75,"m":1.25,"e":0.3},{"k":"5W","t":21,"m":1.1,"e":0.3},{"k":"5W","t":21.25,"m":1.3,"e":0.3},{"k":"5W","t":21.5,"m":1.1,"e":0.3},{"k":"5W","t":21.75,"m":1.2,"e":0.25},{"k":"5W","t":22,"m":1.05,"e":0.25},{"k":"5W","t":22.25,"m":0.95,"e":0.25},{"k":"5W","t":22.5,"m":0.85,"e":0.25},{"k":"5W","t":22.75,"m":0.75,"e":0.25},{"k":"5W","t":23,"m":0.7,"e":0.2},{"k":"5W","t":23.25,"m":0.8,"e":0.25},{"k":"5W","t":23.5,"m":0.6,"e":0.2},{"k":"5W","t":23.75,"m":0.55,"e":0.2},{"k":"5W","t":24,"m":0.65,"e":0.2},
{"k":"5S","t":0,"m":1.0,"e":0.3},{"k":"5S","t":0.25,"m":1.3,"e":0.3},{"k":"5S","t":0.5,"m":1.1,"e":0.3},{"k":"5S","t":0.75,"m":1.5,"e":0.4},{"k":"5S","t":0.92,"m":3.0,"e":0.3},{"k":"5S","t":1,"m":1.5,"e":0.4},{"k":"5S","t":1.25,"m":1.2,"e":0.3},{"k":"5S","t":1.5,"m":1.1,"e":0.2},{"k":"5S","t":1.75,"m":0.95,"e":0.15},{"k":"5S","t":2,"m":0.85,"e":0.15},{"k":"5S","t":2.25,"m":0.8,"e":0.15},{"k":"5S","t":2.5,"m":0.7,"e":0.12},{"k":"5S","t":2.75,"m":0.6,"e":0.12},{"k":"5S","t":3,"m":0.65,"e":0.12},{"k":"5S","t":3.25,"m":0.75,"e":0.15},{"k":"5S","t":3.5,"m":0.6,"e":0.12},{"k":"5S","t":3.75,"m":0.5,"e":0.12},{"k":"5S","t":4,"m":0.45,"e":0.1},{"k":"5S","t":4.25,"m":0.4,"e":0.1},{"k":"5S","t":4.5,"m":0.35,"e":0.1},{"k":"5S","t":4.75,"m":0.3,"e":0.08},{"k":"5S","t":5,"m":0.4,"e":0.1},{"k":"5S","t":5.25,"m":0.45,"e":0.12},{"k":"5S","t":5.5,"m":0.6,"e":0.12},{"k":"5S","t":5.75,"m":0.5,"e":0.12},{"k":"5S","t":6,"m":0.45,"e":0.1},{"k":"5S","t":6.25,"m":0.35,"e":0.1},{"k":"5S","t":6.5,"m":0.45,"e":0.1},{"k":"5S","t":6.75,"m":0.4,"e":0.1},{"k":"5S","t":7,"m":0.35,"e":0.08},{"k":"5S","t":7.5,"m":0.25,"e":0.07},{"k":"5S","t":8,"m":0.2,"e":0.06},{"k":"5S","t":8.5,"m":0.2,"e":0.06},{"k":"5S","t":9,"m":0.22,"e":0.06},{"k":"5S","t":9.5,"m":0.3,"e":0.07},{"k":"5S","t":10,"m":0.25,"e":0.06},{"k":"5S","t":10.5,"m":0.32,"e":0.07},{"k":"5S","t":11,"m":0.25,"e":0.06},{"k":"5S","t":11.5,"m":0.2,"e":0.06},{"k":"5S","t":12,"m":0.22,"e":0.06},{"k":"5S","t":12.5,"m":0.2,"e":0.06},{"k":"5S","t":13,"m":0.2,"e":0.06},{"k":"5S","t":13.5,"m":0.22,"e":0.06},{"k":"5S","t":14,"m":0.2,"e":0.06},{"k":"5S","t":14.5,"m":0.2,"e":0.07},{"k":"5S","t":15,"m":0.22,"e":0.07},{"k":"5S","t":15.5,"m":0.3,"e":0.08},{"k":"5S","t":16,"m":0.4,"e":0.1},{"k":"5S","t":16.5,"m":0.5,"e":0.12},{"k":"5S","t":17,"m":0.6,"e":0.12},{"k":"5S","t":17.5,"m":0.75,"e":0.15},{"k":"5S","t":18,"m":0.9,"e":0.2},{"k":"5S","t":18.25,"m":0.85,"e":0.2},{"k":"5S","t":18.5,"m":1.1,"e":0.25},{"k":"5S","t":18.75,"m":1.0,"e":0.3},{"k":"5S","t":19,"m":1.3,"e":0.35},{"k":"5S","t":19.25,"m":1.2,"e":0.35},{"k":"5S","t":19.5,"m":1.4,"e":0.35},{"k":"5S","t":19.75,"m":1.2,"e":0.35},{"k":"5S","t":20,"m":1.5,"e":0.4},{"k":"5S","t":20.25,"m":1.35,"e":0.4},{"k":"5S","t":20.4,"m":0.45,"e":0.1},{"k":"5S","t":20.6,"m":1.9,"e":0.4},{"k":"5S","t":20.75,"m":1.4,"e":0.35},{"k":"5S","t":21,"m":1.2,"e":0.3},{"k":"5S","t":21.25,"m":1.3,"e":0.3},{"k":"5S","t":21.5,"m":1.0,"e":0.25},{"k":"5S","t":21.75,"m":0.8,"e":0.2},{"k":"5S","t":22,"m":0.7,"e":0.2},{"k":"5S","t":22.25,"m":0.9,"e":0.2},{"k":"5S","t":22.5,"m":0.6,"e":0.2},{"k":"5S","t":22.75,"m":0.75,"e":0.2},{"k":"5S","t":23,"m":0.65,"e":0.15},{"k":"5S","t":23.25,"m":0.7,"e":0.15},{"k":"5S","t":23.5,"m":0.6,"e":0.15},{"k":"5S","t":23.75,"m":0.75,"e":0.15},{"k":"5S","t":24,"m":0.7,"e":0.15},
{"k":"6W","t":0,"m":2.4,"e":1.0},{"k":"6W","t":0.25,"m":1.5,"e":1.0},{"k":"6W","t":0.5,"m":3.5,"e":1.0},{"k":"6W","t":0.75,"m":2.6,"e":1.0},{"k":"6W","t":1,"m":3.0,"e":1.0},{"k":"6W","t":1.25,"m":2.7,"e":1.0},{"k":"6W","t":1.5,"m":4.4,"e":1.0},{"k":"6W","t":1.75,"m":2.8,"e":1.0},{"k":"6W","t":2,"m":3.2,"e":0.9},{"k":"6W","t":2.25,"m":2.5,"e":0.8},{"k":"6W","t":2.5,"m":3.6,"e":0.8},{"k":"6W","t":2.75,"m":2.2,"e":0.7},{"k":"6W","t":3,"m":2.3,"e":0.6},{"k":"6W","t":3.25,"m":1.9,"e":0.5},{"k":"6W","t":3.5,"m":2.7,"e":0.5},{"k":"6W","t":3.75,"m":1.7,"e":0.5},{"k":"6W","t":4,"m":2.0,"e":0.5},{"k":"6W","t":4.25,"m":1.6,"e":0.5},{"k":"6W","t":4.5,"m":1.8,"e":0.5},{"k":"6W","t":4.75,"m":1.4,"e":0.45},{"k":"6W","t":5,"m":1.6,"e":0.45},{"k":"6W","t":5.25,"m":1.1,"e":0.45},{"k":"6W","t":5.5,"m":1.5,"e":0.45},{"k":"6W","t":5.75,"m":1.0,"e":0.45},{"k":"6W","t":6,"m":1.4,"e":0.45},{"k":"6W","t":6.25,"m":1.1,"e":0.45},{"k":"6W","t":6.5,"m":1.5,"e":0.45},{"k":"6W","t":6.75,"m":1.3,"e":0.45},{"k":"6W","t":7,"m":1.5,"e":0.4},{"k":"6W","t":7.25,"m":1.3,"e":0.4},{"k":"6W","t":7.5,"m":1.4,"e":0.4},{"k":"6W","t":7.75,"m":1.15,"e":0.4},{"k":"6W","t":8,"m":1.2,"e":0.4},{"k":"6W","t":8.25,"m":0.95,"e":0.4},{"k":"6W","t":8.5,"m":1.05,"e":0.4},{"k":"6W","t":8.75,"m":0.6,"e":0.4},{"k":"6W","t":9,"m":1.1,"e":0.45},{"k":"6W","t":9.25,"m":0.55,"e":0.45},{"k":"6W","t":9.5,"m":1.4,"e":0.5},{"k":"6W","t":9.75,"m":1.2,"e":0.6},{"k":"6W","t":10,"m":1.6,"e":0.7},{"k":"6W","t":10.25,"m":1.4,"e":0.7},{"k":"6W","t":10.5,"m":2.0,"e":0.8},{"k":"6W","t":10.75,"m":1.7,"e":0.8},{"k":"6W","t":11,"m":2.5,"e":0.9},{"k":"6W","t":11.25,"m":1.9,"e":0.9},{"k":"6W","t":11.5,"m":3.0,"e":0.9},{"k":"6W","t":11.75,"m":1.8,"e":0.8},{"k":"6W","t":12,"m":2.1,"e":0.7},{"k":"6W","t":12.25,"m":1.8,"e":0.6},{"k":"6W","t":12.5,"m":1.7,"e":0.55},{"k":"6W","t":12.75,"m":1.5,"e":0.5},{"k":"6W","t":13,"m":1.35,"e":0.5},{"k":"6W","t":13.25,"m":1.25,"e":0.5},{"k":"6W","t":13.5,"m":1.1,"e":0.45},{"k":"6W","t":13.75,"m":1.0,"e":0.45},{"k":"6W","t":14,"m":0.9,"e":0.45},{"k":"6W","t":14.25,"m":0.8,"e":0.4},{"k":"6W","t":14.5,"m":0.75,"e":0.4},{"k":"6W","t":14.75,"m":0.65,"e":0.35},{"k":"6W","t":15,"m":0.6,"e":0.35},{"k":"6W","t":15.25,"m":0.55,"e":0.3},{"k":"6W","t":15.5,"m":0.5,"e":0.3},{"k":"6W","t":15.75,"m":0.5,"e":0.3},{"k":"6W","t":16,"m":0.45,"e":0.3},{"k":"6W","t":16.25,"m":0.55,"e":0.3},{"k":"6W","t":16.5,"m":0.4,"e":0.3},{"k":"6W","t":16.75,"m":0.7,"e":0.35},{"k":"6W","t":17,"m":0.6,"e":0.35},{"k":"6W","t":17.25,"m":0.9,"e":0.4},{"k":"6W","t":17.5,"m":0.7,"e":0.4},{"k":"6W","t":17.75,"m":1.0,"e":0.45},{"k":"6W","t":18,"m":0.8,"e":0.45},{"k":"6W","t":18.25,"m":1.3,"e":0.5},{"k":"6W","t":18.5,"m":4.1,"e":0.3},{"k":"6W","t":18.6,"m":1.2,"e":0.5},{"k":"6W","t":18.75,"m":1.4,"e":0.6},{"k":"6W","t":19,"m":1.6,"e":0.6},{"k":"6W","t":19.25,"m":1.2,"e":0.6},{"k":"6W","t":19.5,"m":1.9,"e":0.6},{"k":"6W","t":19.75,"m":2.9,"e":0.6},{"k":"6W","t":20,"m":1.3,"e":0.6},{"k":"6W","t":20.25,"m":1.1,"e":0.6},{"k":"6W","t":20.5,"m":1.6,"e":0.6},{"k":"6W","t":20.75,"m":1.2,"e":0.6},{"k":"6W","t":21,"m":1.4,"e":0.6},{"k":"6W","t":21.25,"m":0.8,"e":0.6},{"k":"6W","t":21.5,"m":1.5,"e":0.6},{"k":"6W","t":21.75,"m":1.3,"e":0.6},{"k":"6W","t":22,"m":1.6,"e":0.6},{"k":"6W","t":22.25,"m":1.4,"e":0.6},{"k":"6W","t":22.5,"m":1.8,"e":0.6},{"k":"6W","t":22.75,"m":1.3,"e":0.6},{"k":"6W","t":23,"m":1.5,"e":0.6},{"k":"6W","t":23.25,"m":1.7,"e":0.6},{"k":"6W","t":23.5,"m":1.3,"e":0.6},{"k":"6W","t":23.75,"m":2.0,"e":0.7},{"k":"6W","t":24,"m":1.5,"e":0.6},
{"k":"6S","t":0,"m":1.6,"e":0.3},{"k":"6S","t":0.25,"m":1.2,"e":0.3},{"k":"6S","t":0.5,"m":1.9,"e":0.3},{"k":"6S","t":0.75,"m":1.5,"e":0.25},{"k":"6S","t":1,"m":1.8,"e":0.25},{"k":"6S","t":1.25,"m":1.6,"e":0.2},{"k":"6S","t":1.5,"m":1.5,"e":0.2},{"k":"6S","t":1.75,"m":1.7,"e":0.2},{"k":"6S","t":2,"m":1.0,"e":0.15},{"k":"6S","t":2.25,"m":1.5,"e":0.2},{"k":"6S","t":2.5,"m":1.6,"e":0.2},{"k":"6S","t":2.75,"m":1.4,"e":0.15},{"k":"6S","t":3,"m":1.55,"e":0.15},{"k":"6S","t":3.25,"m":1.4,"e":0.15},{"k":"6S","t":3.5,"m":1.3,"e":0.15},{"k":"6S","t":3.75,"m":1.25,"e":0.12},{"k":"6S","t":4,"m":1.4,"e":0.12},{"k":"6S","t":4.25,"m":1.2,"e":0.12},{"k":"6S","t":4.5,"m":1.3,"e":0.12},{"k":"6S","t":4.75,"m":1.15,"e":0.12},{"k":"6S","t":5,"m":1.25,"e":0.12},{"k":"6S","t":5.25,"m":1.2,"e":0.1},{"k":"6S","t":5.5,"m":1.3,"e":0.1},{"k":"6S","t":5.75,"m":1.2,"e":0.1},{"k":"6S","t":6,"m":1.25,"e":0.1},{"k":"6S","t":6.25,"m":1.45,"e":0.1},{"k":"6S","t":6.5,"m":1.3,"e":0.1},{"k":"6S","t":6.75,"m":1.2,"e":0.1},{"k":"6S","t":7,"m":1.05,"e":0.1},{"k":"6S","t":7.25,"m":0.95,"e":0.1},{"k":"6S","t":7.5,"m":0.8,"e":0.08},{"k":"6S","t":7.75,"m":0.65,"e":0.08},{"k":"6S","t":8,"m":0.5,"e":0.08},{"k":"6S","t":8.25,"m":0.45,"e":0.07},{"k":"6S","t":8.5,"m":0.4,"e":0.07},{"k":"6S","t":8.75,"m":0.38,"e":0.07},{"k":"6S","t":9,"m":0.36,"e":0.06},{"k":"6S","t":9.5,"m":0.35,"e":0.06},{"k":"6S","t":10,"m":0.36,"e":0.06},{"k":"6S","t":10.5,"m":0.4,"e":0.06},{"k":"6S","t":11,"m":0.44,"e":0.07},{"k":"6S","t":11.5,"m":0.48,"e":0.07},{"k":"6S","t":12,"m":0.5,"e":0.07},{"k":"6S","t":12.25,"m":0.55,"e":0.07},{"k":"6S","t":12.5,"m":0.48,"e":0.07},{"k":"6S","t":13,"m":0.38,"e":0.06},{"k":"6S","t":13.5,"m":0.3,"e":0.05},{"k":"6S","t":14,"m":0.24,"e":0.05},{"k":"6S","t":14.5,"m":0.22,"e":0.05},{"k":"6S","t":15,"m":0.25,"e":0.05},{"k":"6S","t":15.5,"m":0.25,"e":0.05},{"k":"6S","t":16,"m":0.28,"e":0.05},{"k":"6S","t":16.5,"m":0.33,"e":0.06},{"k":"6S","t":17,"m":0.4,"e":0.07},{"k":"6S","t":17.25,"m":0.45,"e":0.08},{"k":"6S","t":17.5,"m":0.55,"e":0.08},{"k":"6S","t":17.75,"m":0.6,"e":0.08},{"k":"6S","t":18,"m":0.45,"e":0.07},{"k":"6S","t":18.25,"m":0.4,"e":0.07},{"k":"6S","t":18.5,"m":0.35,"e":0.07},{"k":"6S","t":18.75,"m":0.35,"e":0.08},{"k":"6S","t":19,"m":0.7,"e":0.1},{"k":"6S","t":19.25,"m":0.85,"e":0.12},{"k":"6S","t":19.5,"m":0.75,"e":0.12},{"k":"6S","t":19.75,"m":0.7,"e":0.12},{"k":"6S","t":20,"m":0.65,"e":0.12},{"k":"6S","t":20.25,"m":0.6,"e":0.12},{"k":"6S","t":20.5,"m":0.7,"e":0.12},{"k":"6S","t":20.75,"m":0.95,"e":0.15},{"k":"6S","t":21,"m":1.25,"e":0.15},{"k":"6S","t":21.25,"m":1.35,"e":0.15},{"k":"6S","t":21.5,"m":1.2,"e":0.15},{"k":"6S","t":21.75,"m":1.1,"e":0.12},{"k":"6S","t":22,"m":1.05,"e":0.12},{"k":"6S","t":22.25,"m":1.15,"e":0.15},{"k":"6S","t":22.5,"m":1.35,"e":0.15},{"k":"6S","t":22.75,"m":1.55,"e":0.15},{"k":"6S","t":23,"m":1.5,"e":0.15},{"k":"6S","t":23.25,"m":1.45,"e":0.15},{"k":"6S","t":23.5,"m":1.55,"e":0.15},{"k":"6S","t":23.75,"m":1.45,"e":0.15},{"k":"6S","t":24,"m":1.35,"e":0.15}
    ]
  },
  "columns": 2,
  "spacing": {"row": 46, "column": 46},
  "concat": [
    {"title": {"text": "period = period_1 | group = WKY", "offset": -3}, "width": 1540, "height": 688,
     "transform": [{"filter": "datum.k == '1W'"}],
     "encoding": {"x": {"field": "t", "type": "quantitative", "scale": {"domain": [0, 24], "nice": false}, "axis": {"values": [0, 5, 10, 15, 20], "labels": false, "title": null}}},
     "layer": [
       {"data": {"name": "night"}, "mark": {"type": "rect", "color": "#ececec"}, "encoding": {"x2": {"field": "b"}}},
       {"mark": {"type": "errorband", "color": "#009e73", "band": {"opacity": 0.28}, "clip": true}, "encoding": {"y": {"field": "m", "type": "quantitative", "scale": {"domain": [0, 5], "nice": false}, "axis": {"values": [0, 1, 2, 3, 4, 5], "title": "Activity, units, Mean±SEM"}}, "yError": {"field": "e"}}},
       {"mark": {"type": "line", "color": "#009e73", "strokeWidth": 4, "clip": true}, "encoding": {"y": {"field": "m", "type": "quantitative", "scale": {"domain": [0, 5], "nice": false}, "axis": {"values": [0, 1, 2, 3, 4, 5], "title": "Activity, units, Mean±SEM"}}}}
     ]},
    {"title": "period = period_1 | group = SHR", "width": 1540, "height": 688,
     "transform": [{"filter": "datum.k == '1S'"}],
     "encoding": {"x": {"field": "t", "type": "quantitative", "scale": {"domain": [0, 24], "nice": false}, "axis": {"values": [0, 5, 10, 15, 20], "labels": false, "title": null}}},
     "layer": [
       {"data": {"name": "night"}, "mark": {"type": "rect", "color": "#ececec"}, "encoding": {"x2": {"field": "b"}}},
       {"mark": {"type": "errorband", "color": "#ff6200", "band": {"opacity": 0.28}, "clip": true}, "encoding": {"y": {"field": "m", "type": "quantitative", "scale": {"domain": [0, 5], "nice": false}, "axis": {"values": [0, 1, 2, 3, 4, 5], "labels": false, "title": null}}, "yError": {"field": "e"}}},
       {"mark": {"type": "line", "color": "#ff6200", "strokeWidth": 4, "clip": true}, "encoding": {"y": {"field": "m", "type": "quantitative", "scale": {"domain": [0, 5], "nice": false}, "axis": {"values": [0, 1, 2, 3, 4, 5], "labels": false, "title": null}}}}
     ]},
    {"title": {"text": "period = period_2 | group = WKY", "offset": -3}, "width": 1540, "height": 688,
     "transform": [{"filter": "datum.k == '2W'"}],
     "encoding": {"x": {"field": "t", "type": "quantitative", "scale": {"domain": [0, 24], "nice": false}, "axis": {"values": [0, 5, 10, 15, 20], "labels": false, "title": null}}},
     "layer": [
       {"data": {"name": "night"}, "mark": {"type": "rect", "color": "#ececec"}, "encoding": {"x2": {"field": "b"}}},
       {"mark": {"type": "errorband", "color": "#009e73", "band": {"opacity": 0.28}, "clip": true}, "encoding": {"y": {"field": "m", "type": "quantitative", "scale": {"domain": [0, 5], "nice": false}, "axis": {"values": [0, 1, 2, 3, 4, 5], "title": "Activity, units, Mean±SEM"}}, "yError": {"field": "e"}}},
       {"mark": {"type": "line", "color": "#009e73", "strokeWidth": 4, "clip": true}, "encoding": {"y": {"field": "m", "type": "quantitative", "scale": {"domain": [0, 5], "nice": false}, "axis": {"values": [0, 1, 2, 3, 4, 5], "title": "Activity, units, Mean±SEM"}}}}
     ]},
    {"title": "period = period_2 | group = SHR", "width": 1540, "height": 688,
     "transform": [{"filter": "datum.k == '2S'"}],
     "encoding": {"x": {"field": "t", "type": "quantitative", "scale": {"domain": [0, 24], "nice": false}, "axis": {"values": [0, 5, 10, 15, 20], "labels": false, "title": null}}},
     "layer": [
       {"data": {"name": "night"}, "mark": {"type": "rect", "color": "#ececec"}, "encoding": {"x2": {"field": "b"}}},
       {"mark": {"type": "errorband", "color": "#ff6200", "band": {"opacity": 0.28}, "clip": true}, "encoding": {"y": {"field": "m", "type": "quantitative", "scale": {"domain": [0, 5], "nice": false}, "axis": {"values": [0, 1, 2, 3, 4, 5], "labels": false, "title": null}}, "yError": {"field": "e"}}},
       {"mark": {"type": "line", "color": "#ff6200", "strokeWidth": 4, "clip": true}, "encoding": {"y": {"field": "m", "type": "quantitative", "scale": {"domain": [0, 5], "nice": false}, "axis": {"values": [0, 1, 2, 3, 4, 5], "labels": false, "title": null}}}}
     ]},
    {"title": {"text": "period = period_3 | group = WKY", "offset": -3}, "width": 1540, "height": 688,
     "transform": [{"filter": "datum.k == '3W'"}],
     "encoding": {"x": {"field": "t", "type": "quantitative", "scale": {"domain": [0, 24], "nice": false}, "axis": {"values": [0, 5, 10, 15, 20], "labels": false, "title": null}}},
     "layer": [
       {"data": {"name": "night"}, "mark": {"type": "rect", "color": "#ececec"}, "encoding": {"x2": {"field": "b"}}},
       {"mark": {"type": "errorband", "color": "#009e73", "band": {"opacity": 0.28}, "clip": true}, "encoding": {"y": {"field": "m", "type": "quantitative", "scale": {"domain": [0, 5], "nice": false}, "axis": {"values": [0, 1, 2, 3, 4, 5], "title": "Activity, units, Mean±SEM"}}, "yError": {"field": "e"}}},
       {"mark": {"type": "line", "color": "#009e73", "strokeWidth": 4, "clip": true}, "encoding": {"y": {"field": "m", "type": "quantitative", "scale": {"domain": [0, 5], "nice": false}, "axis": {"values": [0, 1, 2, 3, 4, 5], "title": "Activity, units, Mean±SEM"}}}}
     ]},
    {"title": "period = period_3 | group = SHR", "width": 1540, "height": 688,
     "transform": [{"filter": "datum.k == '3S'"}],
     "encoding": {"x": {"field": "t", "type": "quantitative", "scale": {"domain": [0, 24], "nice": false}, "axis": {"values": [0, 5, 10, 15, 20], "labels": false, "title": null}}},
     "layer": [
       {"data": {"name": "night"}, "mark": {"type": "rect", "color": "#ececec"}, "encoding": {"x2": {"field": "b"}}},
       {"mark": {"type": "errorband", "color": "#ff6200", "band": {"opacity": 0.28}, "clip": true}, "encoding": {"y": {"field": "m", "type": "quantitative", "scale": {"domain": [0, 5], "nice": false}, "axis": {"values": [0, 1, 2, 3, 4, 5], "labels": false, "title": null}}, "yError": {"field": "e"}}},
       {"mark": {"type": "line", "color": "#ff6200", "strokeWidth": 4, "clip": true}, "encoding": {"y": {"field": "m", "type": "quantitative", "scale": {"domain": [0, 5], "nice": false}, "axis": {"values": [0, 1, 2, 3, 4, 5], "labels": false, "title": null}}}}
     ]},
    {"title": {"text": "period = period_4 | group = WKY", "offset": -3}, "width": 1540, "height": 688,
     "transform": [{"filter": "datum.k == '4W'"}],
     "encoding": {"x": {"field": "t", "type": "quantitative", "scale": {"domain": [0, 24], "nice": false}, "axis": {"values": [0, 5, 10, 15, 20], "labels": false, "title": null}}},
     "layer": [
       {"data": {"name": "night"}, "mark": {"type": "rect", "color": "#ececec"}, "encoding": {"x2": {"field": "b"}}},
       {"mark": {"type": "errorband", "color": "#009e73", "band": {"opacity": 0.28}, "clip": true}, "encoding": {"y": {"field": "m", "type": "quantitative", "scale": {"domain": [0, 5], "nice": false}, "axis": {"values": [0, 1, 2, 3, 4, 5], "title": "Activity, units, Mean±SEM"}}, "yError": {"field": "e"}}},
       {"mark": {"type": "line", "color": "#009e73", "strokeWidth": 4, "clip": true}, "encoding": {"y": {"field": "m", "type": "quantitative", "scale": {"domain": [0, 5], "nice": false}, "axis": {"values": [0, 1, 2, 3, 4, 5], "title": "Activity, units, Mean±SEM"}}}}
     ]},
    {"title": "period = period_4 | group = SHR", "width": 1540, "height": 688,
     "transform": [{"filter": "datum.k == '4S'"}],
     "encoding": {"x": {"field": "t", "type": "quantitative", "scale": {"domain": [0, 24], "nice": false}, "axis": {"values": [0, 5, 10, 15, 20], "labels": false, "title": null}}},
     "layer": [
       {"data": {"name": "night"}, "mark": {"type": "rect", "color": "#ececec"}, "encoding": {"x2": {"field": "b"}}},
       {"mark": {"type": "errorband", "color": "#ff6200", "band": {"opacity": 0.28}, "clip": true}, "encoding": {"y": {"field": "m", "type": "quantitative", "scale": {"domain": [0, 5], "nice": false}, "axis": {"values": [0, 1, 2, 3, 4, 5], "labels": false, "title": null}}, "yError": {"field": "e"}}},
       {"mark": {"type": "line", "color": "#ff6200", "strokeWidth": 4, "clip": true}, "encoding": {"y": {"field": "m", "type": "quantitative", "scale": {"domain": [0, 5], "nice": false}, "axis": {"values": [0, 1, 2, 3, 4, 5], "labels": false, "title": null}}}}
     ]},
    {"title": {"text": "period = period_5 | group = WKY", "offset": -3}, "width": 1540, "height": 688,
     "transform": [{"filter": "datum.k == '5W'"}],
     "encoding": {"x": {"field": "t", "type": "quantitative", "scale": {"domain": [0, 24], "nice": false}, "axis": {"values": [0, 5, 10, 15, 20], "labels": false, "title": null}}},
     "layer": [
       {"data": {"name": "night"}, "mark": {"type": "rect", "color": "#ececec"}, "encoding": {"x2": {"field": "b"}}},
       {"mark": {"type": "errorband", "color": "#009e73", "band": {"opacity": 0.28}, "clip": true}, "encoding": {"y": {"field": "m", "type": "quantitative", "scale": {"domain": [0, 5], "nice": false}, "axis": {"values": [0, 1, 2, 3, 4, 5], "title": "Activity, units, Mean±SEM"}}, "yError": {"field": "e"}}},
       {"mark": {"type": "line", "color": "#009e73", "strokeWidth": 4, "clip": true}, "encoding": {"y": {"field": "m", "type": "quantitative", "scale": {"domain": [0, 5], "nice": false}, "axis": {"values": [0, 1, 2, 3, 4, 5], "title": "Activity, units, Mean±SEM"}}}}
     ]},
    {"title": "period = period_5 | group = SHR", "width": 1540, "height": 688,
     "transform": [{"filter": "datum.k == '5S'"}],
     "encoding": {"x": {"field": "t", "type": "quantitative", "scale": {"domain": [0, 24], "nice": false}, "axis": {"values": [0, 5, 10, 15, 20], "labels": false, "title": null}}},
     "layer": [
       {"data": {"name": "night"}, "mark": {"type": "rect", "color": "#ececec"}, "encoding": {"x2": {"field": "b"}}},
       {"mark": {"type": "errorband", "color": "#ff6200", "band": {"opacity": 0.28}, "clip": true}, "encoding": {"y": {"field": "m", "type": "quantitative", "scale": {"domain": [0, 5], "nice": false}, "axis": {"values": [0, 1, 2, 3, 4, 5], "labels": false, "title": null}}, "yError": {"field": "e"}}},
       {"mark": {"type": "line", "color": "#ff6200", "strokeWidth": 4, "clip": true}, "encoding": {"y": {"field": "m", "type": "quantitative", "scale": {"domain": [0, 5], "nice": false}, "axis": {"values": [0, 1, 2, 3, 4, 5], "labels": false, "title": null}}}}
     ]},
    {"title": {"text": "period = period_6 | group = WKY", "offset": -3}, "width": 1540, "height": 688,
     "transform": [{"filter": "datum.k == '6W'"}],
     "encoding": {"x": {"field": "t", "type": "quantitative", "scale": {"domain": [0, 24], "nice": false}, "axis": {"values": [0, 5, 10, 15, 20], "title": "Time in period, hours"}}},
     "layer": [
       {"data": {"name": "night"}, "mark": {"type": "rect", "color": "#ececec"}, "encoding": {"x2": {"field": "b"}}},
       {"mark": {"type": "errorband", "color": "#009e73", "band": {"opacity": 0.28}, "clip": true}, "encoding": {"y": {"field": "m", "type": "quantitative", "scale": {"domain": [0, 5], "nice": false}, "axis": {"values": [0, 1, 2, 3, 4, 5], "title": "Activity, units, Mean±SEM"}}, "yError": {"field": "e"}}},
       {"mark": {"type": "line", "color": "#009e73", "strokeWidth": 4, "clip": true}, "encoding": {"y": {"field": "m", "type": "quantitative", "scale": {"domain": [0, 5], "nice": false}, "axis": {"values": [0, 1, 2, 3, 4, 5], "title": "Activity, units, Mean±SEM"}}}}
     ]},
    {"title": "period = period_6 | group = SHR", "width": 1540, "height": 688,
     "transform": [{"filter": "datum.k == '6S'"}],
     "encoding": {"x": {"field": "t", "type": "quantitative", "scale": {"domain": [0, 24], "nice": false}, "axis": {"values": [0, 5, 10, 15, 20], "title": "Time in period, hours"}}},
     "layer": [
       {"data": {"name": "night"}, "mark": {"type": "rect", "color": "#ececec"}, "encoding": {"x2": {"field": "b"}}},
       {"mark": {"type": "errorband", "color": "#ff6200", "band": {"opacity": 0.28}, "clip": true}, "encoding": {"y": {"field": "m", "type": "quantitative", "scale": {"domain": [0, 5], "nice": false}, "axis": {"values": [0, 1, 2, 3, 4, 5], "labels": false, "title": null}}, "yError": {"field": "e"}}},
       {"mark": {"type": "line", "color": "#ff6200", "strokeWidth": 4, "clip": true}, "encoding": {"y": {"field": "m", "type": "quantitative", "scale": {"domain": [0, 5], "nice": false}, "axis": {"values": [0, 1, 2, 3, 4, 5], "labels": false, "title": null}}}}
     ]}
  ],
  "config": {
    "font": "DejaVu Sans",
    "view": {"stroke": null},
    "axis": {"grid": false, "domainColor": "#000000", "domainWidth": 2.6, "tickColor": "#000000", "tickWidth": 2.6, "tickSize": 12, "labelFontSize": 34, "labelColor": "#000000", "labelPadding": 10, "titleFontSize": 38.5, "titleFontWeight": "normal", "titleColor": "#000000"},
    "axisY": {"titlePadding": 24},
    "axisX": {"labelPadding": 14, "titlePadding": 22},
    "title": {"fontSize": 38.5, "fontWeight": "normal", "color": "#000000", "frame": "group", "anchor": "middle", "offset": 14, "baseline": "bottom"}
  }
}
